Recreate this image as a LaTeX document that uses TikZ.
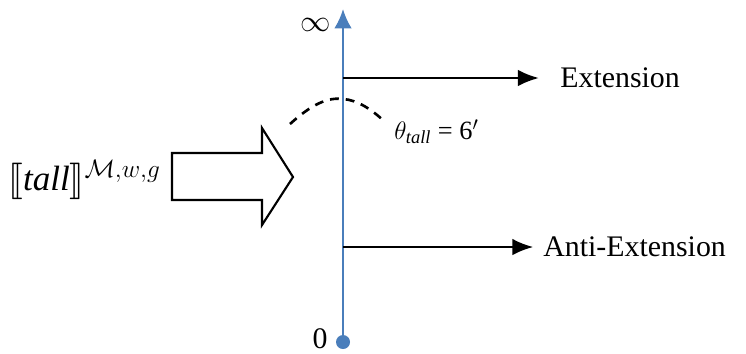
\documentclass[tikz,border=0pt]{standalone}
\usepackage{fontspec}
\usepackage{amsmath,amssymb}
\usepackage{stmaryrd}
\setmainfont{Liberation Serif}
\definecolor{axisblue}{HTML}{4A7EBB}
\usetikzlibrary{arrows.meta, positioning, calc}

\begin{document}
\begin{tikzpicture}[
    x=0.02cm, y=-0.02cm,
    font=\fontsize{17}{20}\selectfont,
    arr/.style={
        -{Latex[length=12pt, width=9.5pt]},
        black, line width=1.4pt,
    },
    axisline/.style={
        -{Latex[length=11pt, width=10pt]},
        axisblue, line width=1.3pt,
    },
    lbl/.style={
        inner sep=0pt, anchor=west,
    },
    threshold/.style={
        black, line width=1.5pt, dash pattern=on 5pt off 4pt,
    },
]
\useasboundingbox (0,0) rectangle (746,353);

% -- Axis --
\coordinate (zero) at (343,342);
\coordinate (top) at (343,9);
\draw[axisline] (zero) -- (top);
\fill[axisblue] (zero) circle (7);
\node[lbl, anchor=east] (zlbl) at (328,339) {0};
\node[lbl, anchor=east] (inf) at (331,25) {$\infty$};

% -- Extension / Anti-Extension --
\coordinate (e1) at (343,78);
\coordinate (a1) at (343,247);
\node[lbl] (ext) at (560,78) {Extension};
\node[lbl] (anti) at (543,247) {Anti-Extension};
\draw[arr, shorten >=12pt] (e1) -- (ext.west);
\draw[arr, shorten >=5.5pt] (a1) -- (anti.west);

% -- Threshold --
\draw[threshold] (290,124) .. controls (312,104) and (328,97) .. (343,99)
    .. controls (358,100) and (372,110) .. (384,121);
\node[lbl, font=\fontsize{15}{17}\selectfont] (theta) at (394,132)
    {$\theta_{\mathit{tall}}$ = 6$'$};

% -- Interpretation block arrow --
\draw[black, line width=1.2pt, line join=miter]
    (172,153) -- (262,153) -- (262,128) -- (293,177) -- (262,225)
    -- (262,200) -- (172,200) -- cycle;
\node[lbl] (den) at (8,180)
    {\fontsize{20}{22}\selectfont$\llbracket\mathit{tall}\rrbracket^{\mathcal{M},w,g}$};

\end{tikzpicture}
\end{document}
